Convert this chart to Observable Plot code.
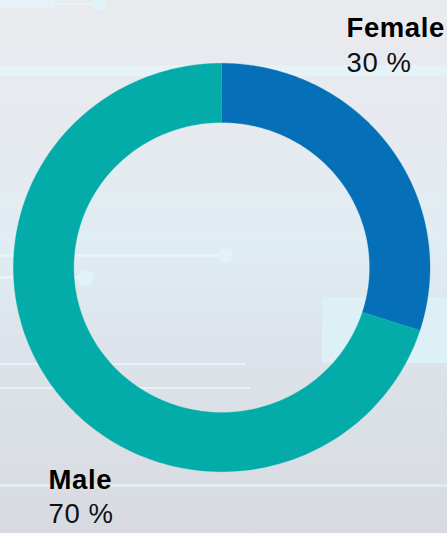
<!DOCTYPE html>
<html>
<head>
<meta charset="utf-8">
<script src="https://cdn.jsdelivr.net/npm/d3@7"></script>
<script src="https://cdn.jsdelivr.net/npm/@observablehq/plot@0.6"></script>
<style>
  html, body { margin: 0; padding: 0; }
  #page {
    position: relative; width: 447px; height: 533px; overflow: hidden;
    background: linear-gradient(180deg, #e9eaee 0%, #e6eaef 25%, #e0edf3 45%, #dde3ea 65%, #d8dae1 100%);
  }
  .deco { position: absolute; background: #e4f4f9; }
  .dot { position: absolute; border-radius: 50%; background: #dff3f9; }
  #chart { position: absolute; left: 0; top: 0; }
  #chart text { letter-spacing: 0.6px; }
</style>
</head>
<body>
<div id="page">
  <div class="deco" style="left:0;top:0;width:55px;height:8px;opacity:.9"></div>
  <div class="deco" style="left:55px;top:3px;width:45px;height:2px"></div>
  <div class="dot" style="left:92px;top:-3px;width:14px;height:14px"></div>
  <div class="deco" style="left:0;top:65px;width:447px;height:11px;opacity:.85"></div>
  <div class="deco" style="left:0;top:254px;width:225px;height:3px"></div>
  <div class="dot" style="left:218px;top:248px;width:15px;height:15px"></div>
  <div class="deco" style="left:0;top:276px;width:86px;height:3px"></div>
  <div class="dot" style="left:78px;top:270px;width:16px;height:16px"></div>
  <div class="deco" style="left:322px;top:297px;width:125px;height:66px;background:#dcf0f6"></div>
  <div class="deco" style="left:0;top:363px;width:246px;height:2px"></div>
  <div class="deco" style="left:0;top:387px;width:250px;height:2px"></div>
  <div class="deco" style="left:0;top:484px;width:447px;height:3px;opacity:.7"></div>
  <div id="chart"></div>
</div>
<script>
// ---- data ----
const categories = ["Female", "Male"];
const shares = [30, 70];
const valueLabels = ["30 %", "70 %"];
const colors = ["#0570b7", "#03aca9"];

// ---- layout (pixels) ----
const W = 447, H = 533;
const cx = 221.7, cy = 267.5;     // ring centre
const Rx = 208.3, Ry = 204.2;     // outer radius (slightly wider than tall)
const inner = 0.71;               // inner / outer radius

const xDomain = [(0 - cx) / Rx, (W - cx) / Rx];
const yDomain = [(cy - H) / Ry, (cy - 0) / Ry];
const px2x = (p) => (p - cx) / Rx;
const px2y = (p) => (cy - p) / Ry;

// ---- ring geometry from the data ----
const arcs = d3.pie().sort(null)(shares);
const ring = [];
arcs.forEach((a, i) => {
  const n = 180;
  for (let k = 0; k <= n; k++) {
    const t = a.startAngle + (a.endAngle - a.startAngle) * k / n;
    ring.push({
      cat: categories[i],
      xo: Math.sin(t), yo: Math.cos(t),
      xi: inner * Math.sin(t), yi: inner * Math.cos(t)
    });
  }
});

// label anchors (pixel layout)
const labelPos = [
  {x: 346, nameY: 36.5, valueY: 71},
  {x: 48, nameY: 488, valueY: 522.5}
];
const labels = categories.map((c, i) => ({
  name: c, value: valueLabels[i],
  x: px2x(labelPos[i].x), ny: px2y(labelPos[i].nameY), vy: px2y(labelPos[i].valueY)
}));

const chart = Plot.plot({
  width: W, height: H, margin: 0,
  style: {background: "transparent", fontFamily: "'Liberation Sans', Arial, sans-serif"},
  x: {domain: xDomain, axis: null},
  y: {domain: yDomain, axis: null},
  color: {domain: categories, range: colors},
  marks: [
    Plot.area(ring, {x1: "xo", y1: "yo", x2: "xi", y2: "yi", z: "cat", fill: "cat", stroke: "cat", strokeWidth: 0.3}),
    Plot.text(labels, {x: "x", y: "ny", text: "name", textAnchor: "start", lineAnchor: "bottom",
      fontSize: 27.5, fontWeight: "bold", fill: "#000"}),
    Plot.text(labels, {x: "x", y: "vy", text: "value", textAnchor: "start", lineAnchor: "bottom",
      fontSize: 27.5, fill: "#111"})
  ]
});
document.getElementById("chart").appendChild(chart);
</script>
</body>
</html>
